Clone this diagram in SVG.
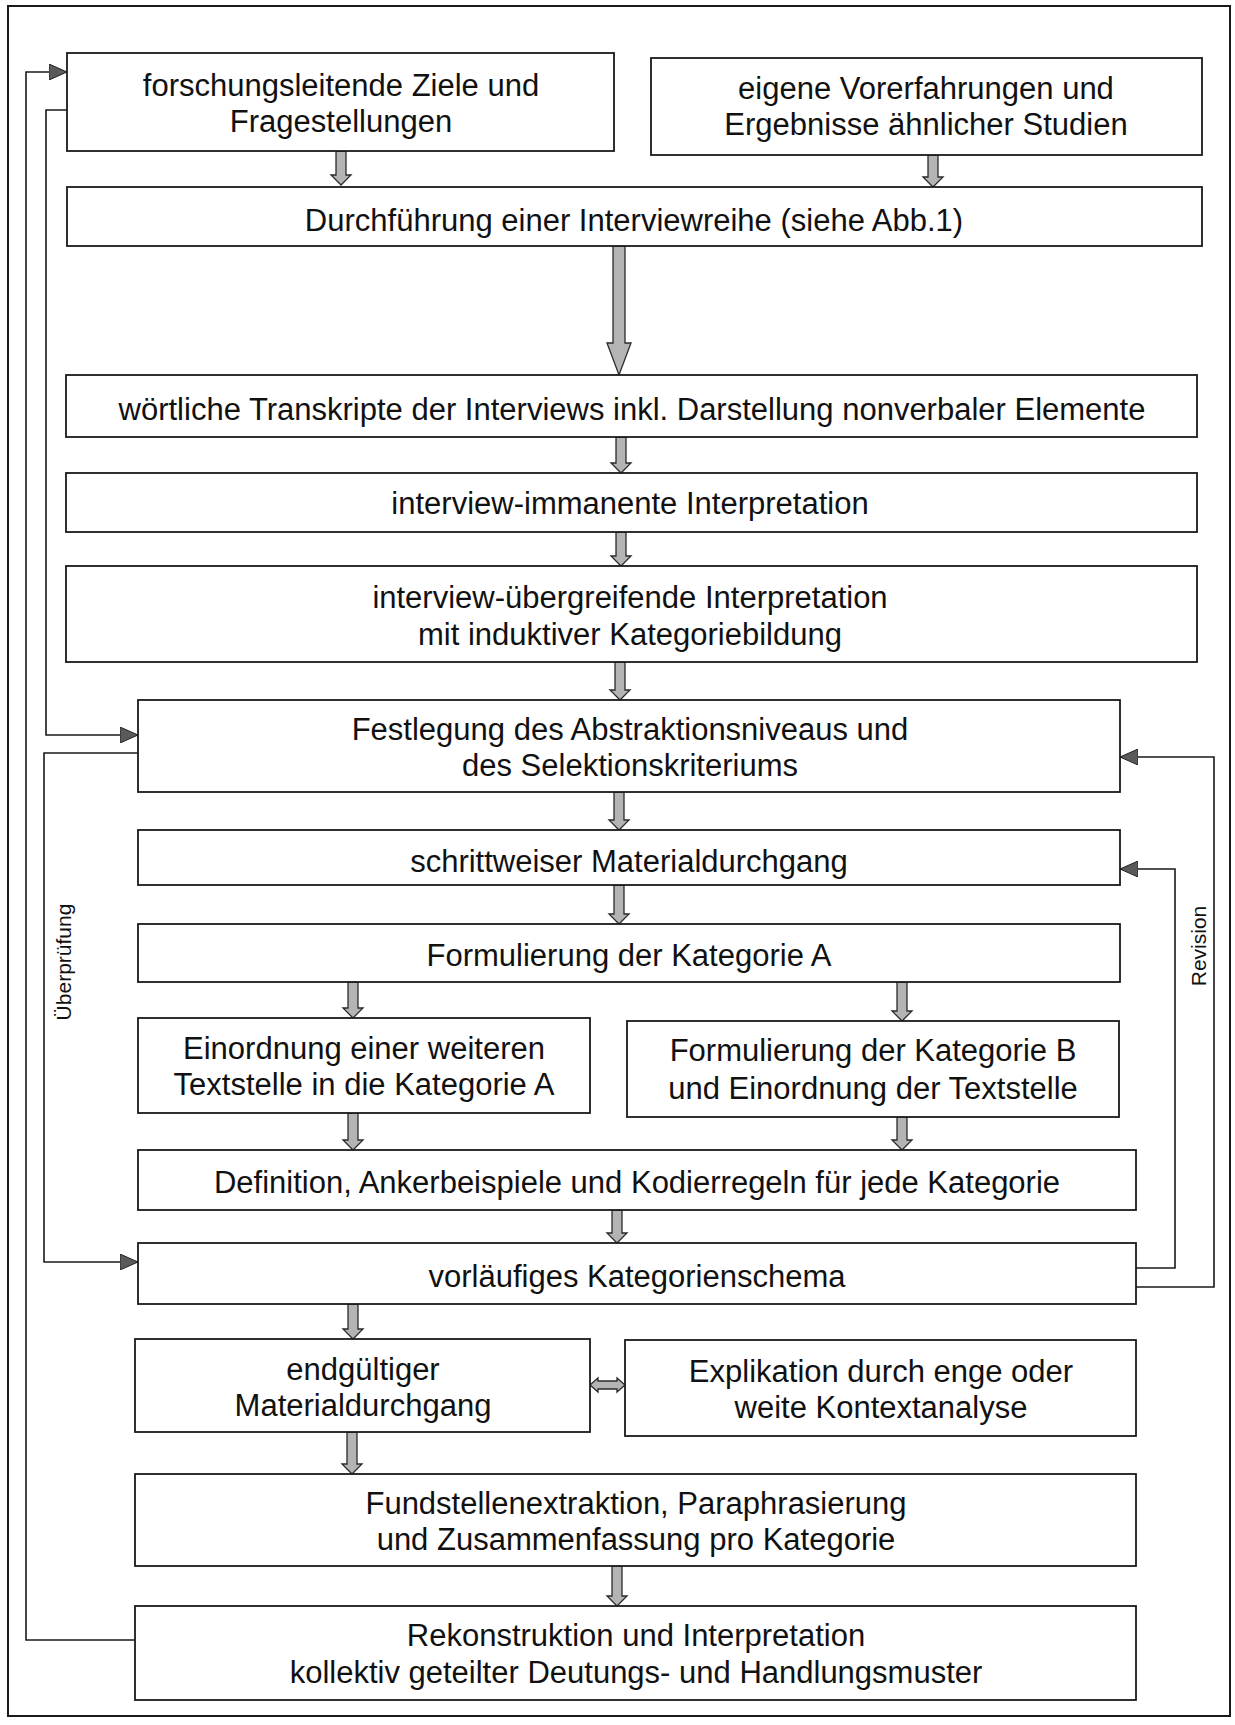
<svg xmlns="http://www.w3.org/2000/svg" width="1235" height="1725" viewBox="0 0 1235 1725">
  <style>
    .box { fill: #ffffff; stroke: #1a1a1a; stroke-width: 1.8; }
    .lbl { font-family: "Liberation Sans", Arial, sans-serif; font-size: 31px; fill: #111111; text-anchor: middle; }
    .side { font-family: "Liberation Sans", Arial, sans-serif; font-size: 21px; fill: #111111; text-anchor: middle; }
    .flow { fill: #b4b4b4; stroke: #2a2a2a; stroke-width: 1.3; stroke-linejoin: miter; }
    .loop { fill: none; stroke: #1a1a1a; stroke-width: 1.6; }
  </style>
  <defs>
    <marker id="tri" viewBox="0 0 18 16" refX="18" refY="8" markerWidth="18" markerHeight="16" orient="auto" markerUnits="userSpaceOnUse">
      <path d="M0,0 L18,8 L0,16 Z" fill="#5a5a5a" stroke="#222222" stroke-width="1"/>
    </marker>
  </defs>

  <rect width="1235" height="1725" fill="#ffffff"/>
  <!-- frame -->
  <rect x="8" y="6" width="1222" height="1710" fill="none" stroke="#1a1a1a" stroke-width="2"/>

  <!-- connectors -->
  <g id="connectors">
    <!-- downward block arrows -->
    <path class="flow" d="M336,151 V175 H331 L341,185 L351,175 H346 V151 Z"/>
    <path class="flow" d="M928,155 V177 H923 L933,187 L943,177 H938 V155 Z"/>
    <path class="flow" d="M613,246 V343 H607 L619,375 L631,343 H625 V246 Z"/>
    <path class="flow" d="M616,437 V463 H611 L621,473 L631,463 H626 V437 Z"/>
    <path class="flow" d="M616,532 V556 H611 L621,566 L631,556 H626 V532 Z"/>
    <path class="flow" d="M615,662 V690 H610 L620,700 L630,690 H625 V662 Z"/>
    <path class="flow" d="M614,792 V820 H609 L619,830 L629,820 H624 V792 Z"/>
    <path class="flow" d="M614,885 V914 H609 L619,924 L629,914 H624 V885 Z"/>
    <path class="flow" d="M348,982 V1008 H343 L353,1018 L363,1008 H358 V982 Z"/>
    <path class="flow" d="M897,982 V1011 H892 L902,1021 L912,1011 H907 V982 Z"/>
    <path class="flow" d="M348,1113 V1140 H343 L353,1150 L363,1140 H358 V1113 Z"/>
    <path class="flow" d="M897,1117 V1140 H892 L902,1150 L912,1140 H907 V1117 Z"/>
    <path class="flow" d="M612,1210 V1233 H607 L617,1243 L627,1233 H622 V1210 Z"/>
    <path class="flow" d="M348,1304 V1329 H343 L353,1339 L363,1329 H358 V1304 Z"/>
    <path class="flow" d="M347,1432 V1464 H342 L352,1474 L362,1464 H357 V1432 Z"/>
    <path class="flow" d="M612,1566 V1596 H607 L617,1606 L627,1596 H622 V1566 Z"/>
    <!-- two-way arrow -->
    <path class="flow" d="M590,1385 L598,1378 V1381 H617 V1378 L625,1385 L617,1392 V1389 H598 V1392 Z"/>

    <!-- left feedback loops -->
    <polyline class="loop" points="135,1640 26,1640 26,72 67,72" marker-end="url(#tri)"/>
    <polyline class="loop" points="67,110 46,110 46,735 138,735" marker-end="url(#tri)"/>
    <polyline class="loop" points="138,753 44,753 44,1262 138,1262" marker-end="url(#tri)"/>
    <text class="side" transform="translate(71,962) rotate(-90)">Überprüfung</text>

    <!-- right revision loops -->
    <polyline class="loop" points="1136,1287 1214,1287 1214,757 1120,757" marker-end="url(#tri)"/>
    <polyline class="loop" points="1136,1268 1175,1268 1175,869 1120,869" marker-end="url(#tri)"/>
    <text class="side" transform="translate(1206,946) rotate(-90)">Revision</text>
  </g>

  <!-- nodes -->
  <g id="n-ziele">
    <rect class="box" x="67" y="53" width="547" height="98"/>
    <text class="lbl" x="341" y="96">forschungsleitende Ziele und</text>
    <text class="lbl" x="341" y="132">Fragestellungen</text>
  </g>
  <g id="n-vorerfahrungen">
    <rect class="box" x="651" y="58" width="551" height="97"/>
    <text class="lbl" x="926" y="99">eigene Vorerfahrungen und</text>
    <text class="lbl" x="926" y="135">Ergebnisse ähnlicher Studien</text>
  </g>
  <g id="n-interviewreihe">
    <rect class="box" x="67" y="187" width="1135" height="59"/>
    <text class="lbl" x="634" y="231">Durchführung einer Interviewreihe (siehe Abb.1)</text>
  </g>
  <g id="n-transkripte">
    <rect class="box" x="66" y="375" width="1131" height="62"/>
    <text class="lbl" x="632" y="420">wörtliche Transkripte der Interviews inkl. Darstellung nonverbaler Elemente</text>
  </g>
  <g id="n-immanent">
    <rect class="box" x="66" y="473" width="1131" height="59"/>
    <text class="lbl" x="630" y="514">interview-immanente Interpretation</text>
  </g>
  <g id="n-uebergreifend">
    <rect class="box" x="66" y="566" width="1131" height="96"/>
    <text class="lbl" x="630" y="608">interview-übergreifende Interpretation</text>
    <text class="lbl" x="630" y="645">mit induktiver Kategoriebildung</text>
  </g>
  <g id="n-festlegung">
    <rect class="box" x="138" y="700" width="982" height="92"/>
    <text class="lbl" x="630" y="740">Festlegung des Abstraktionsniveaus und</text>
    <text class="lbl" x="630" y="776">des Selektionskriteriums</text>
  </g>
  <g id="n-materialdurchgang">
    <rect class="box" x="138" y="830" width="982" height="55"/>
    <text class="lbl" x="629" y="872">schrittweiser Materialdurchgang</text>
  </g>
  <g id="n-kategorie-a">
    <rect class="box" x="138" y="924" width="982" height="58"/>
    <text class="lbl" x="629" y="966">Formulierung der Kategorie A</text>
  </g>
  <g id="n-einordnung">
    <rect class="box" x="138" y="1018" width="452" height="95"/>
    <text class="lbl" x="364" y="1059">Einordnung einer weiteren</text>
    <text class="lbl" x="364" y="1095">Textstelle in die Kategorie A</text>
  </g>
  <g id="n-kategorie-b">
    <rect class="box" x="627" y="1021" width="492" height="96"/>
    <text class="lbl" x="873" y="1061">Formulierung der Kategorie B</text>
    <text class="lbl" x="873" y="1099">und Einordnung der Textstelle</text>
  </g>
  <g id="n-definition">
    <rect class="box" x="138" y="1150" width="998" height="60"/>
    <text class="lbl" x="637" y="1193">Definition, Ankerbeispiele und Kodierregeln für jede Kategorie</text>
  </g>
  <g id="n-schema">
    <rect class="box" x="138" y="1243" width="998" height="61"/>
    <text class="lbl" x="637" y="1287">vorläufiges Kategorienschema</text>
  </g>
  <g id="n-endgueltig">
    <rect class="box" x="135" y="1339" width="455" height="93"/>
    <text class="lbl" x="363" y="1380">endgültiger</text>
    <text class="lbl" x="363" y="1416">Materialdurchgang</text>
  </g>
  <g id="n-explikation">
    <rect class="box" x="625" y="1340" width="511" height="96"/>
    <text class="lbl" x="881" y="1382">Explikation durch enge oder</text>
    <text class="lbl" x="881" y="1418">weite Kontextanalyse</text>
  </g>
  <g id="n-fundstellen">
    <rect class="box" x="135" y="1474" width="1001" height="92"/>
    <text class="lbl" x="636" y="1514">Fundstellenextraktion, Paraphrasierung</text>
    <text class="lbl" x="636" y="1550">und Zusammenfassung pro Kategorie</text>
  </g>
  <g id="n-rekonstruktion">
    <rect class="box" x="135" y="1606" width="1001" height="94"/>
    <text class="lbl" x="636" y="1646">Rekonstruktion und Interpretation</text>
    <text class="lbl" x="636" y="1683">kollektiv geteilter Deutungs- und Handlungsmuster</text>
  </g>
</svg>
